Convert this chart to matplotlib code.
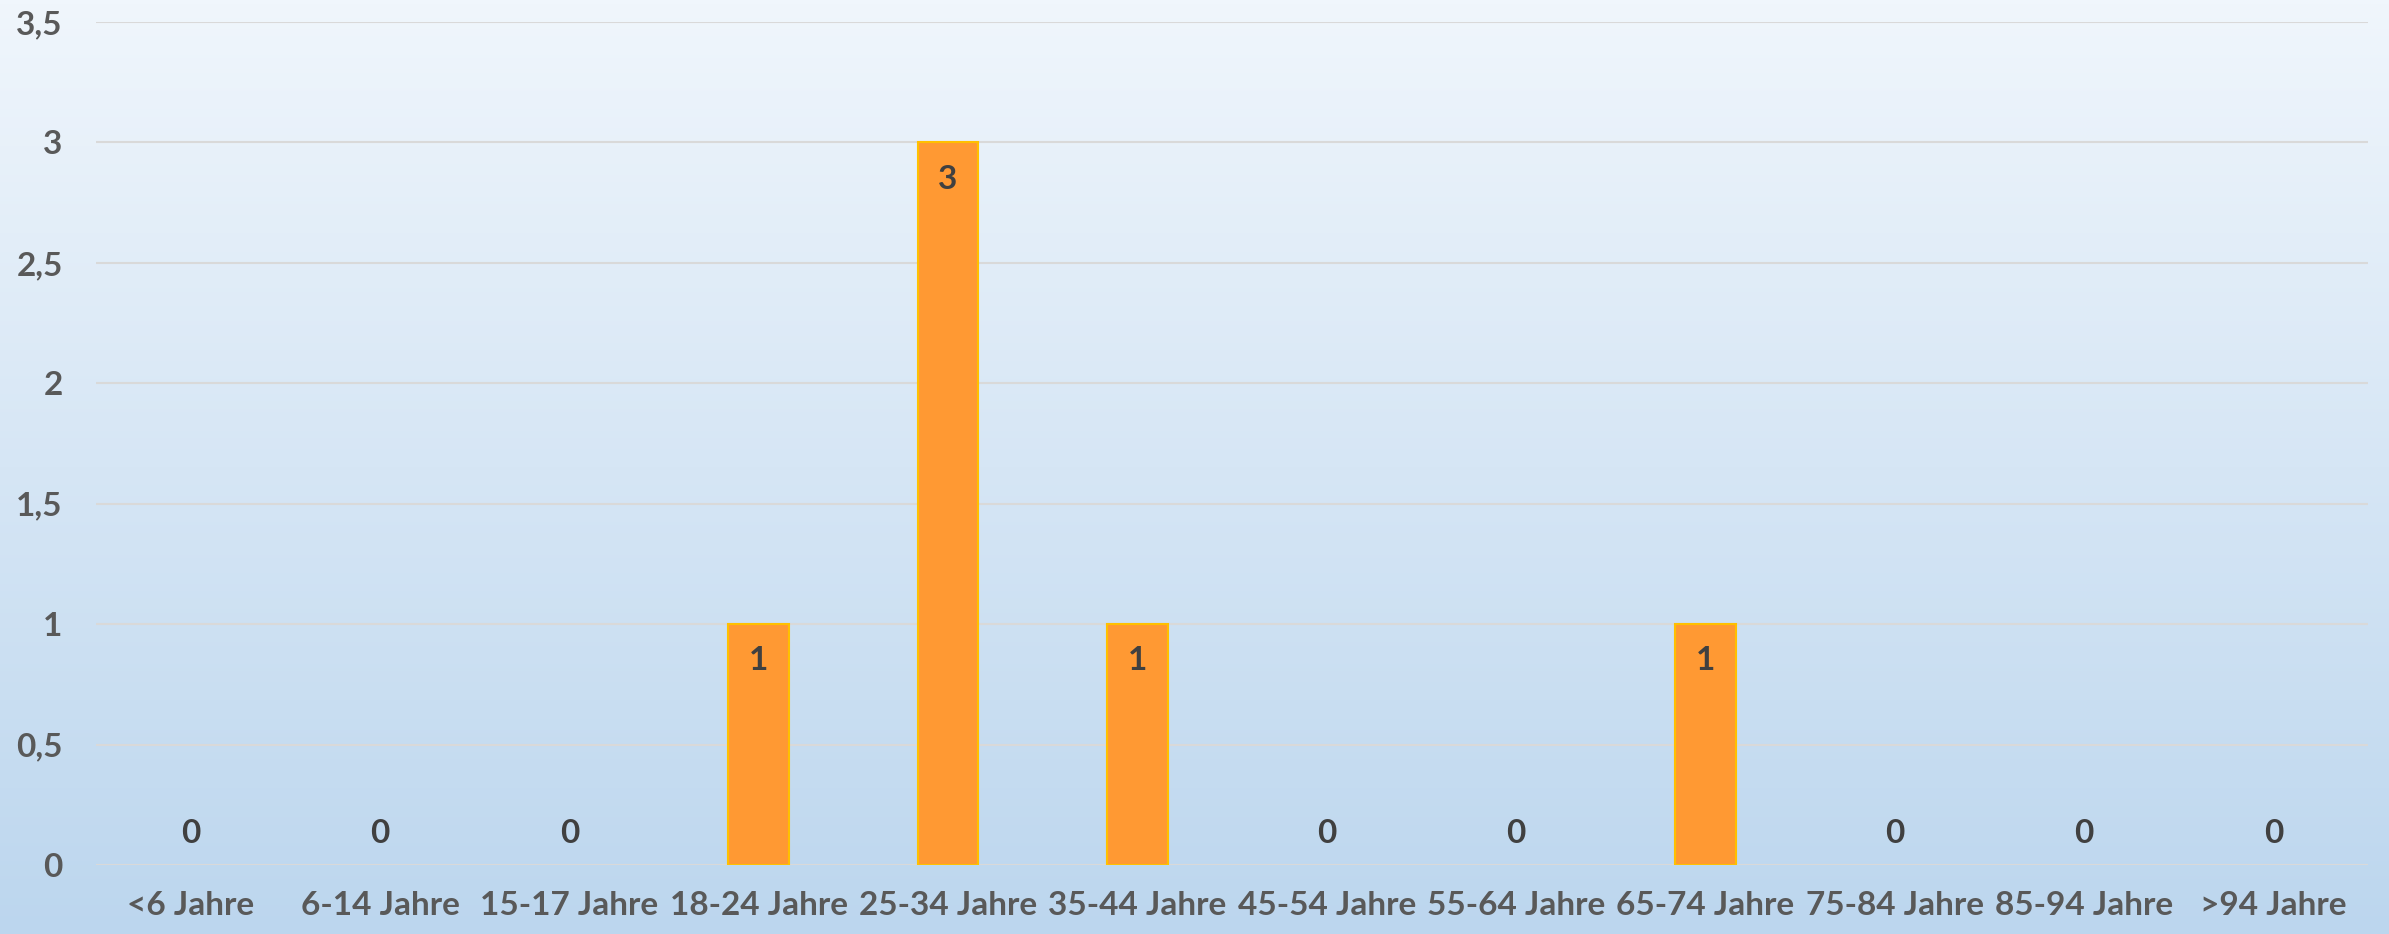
import numpy as np
import matplotlib
matplotlib.use("Agg")
import matplotlib.pyplot as plt
from matplotlib.colors import LinearSegmentedColormap

categories = ["<6 Jahre", "6-14 Jahre", "15-17 Jahre", "18-24 Jahre", "25-34 Jahre",
              "35-44 Jahre", "45-54 Jahre", "55-64 Jahre", "65-74 Jahre", "75-84 Jahre",
              "85-94 Jahre", ">94 Jahre"]
values = [0, 0, 0, 1, 3, 1, 0, 0, 1, 0, 0, 0]
y_ticks = [0, 0.5, 1, 1.5, 2, 2.5, 3, 3.5]
y_tick_labels = ["0", "0,5", "1", "1,5", "2", "2,5", "3", "3,5"]

plt.rcParams["font.family"] = ["Lato", "DejaVu Sans"]

fig = plt.figure(figsize=(23.89, 9.34), dpi=100)

# Hintergrund mit Farbverlauf
bg = fig.add_axes([0, 0, 1, 1], zorder=0)
grad = np.linspace(0, 1, 256).reshape(-1, 1)
cmap = LinearSegmentedColormap.from_list("bg", ["#F0F6FC", "#BCD6EE"])
bg.imshow(grad, aspect="auto", cmap=cmap, extent=[0, 1, 0, 1])
bg.axis("off")

ax = fig.add_axes([0.0402, 0.0739, 0.9510, 0.9025], zorder=1)
ax.patch.set_alpha(0)

x = np.arange(len(categories))
lw = [1.5 if v > 0 else 0 for v in values]
bars = ax.bar(x, values, width=0.32, color="#FF9933", edgecolor="#FFC000",
              linewidth=lw, zorder=3)

for xi, v in zip(x, values):
    if v == 0:
        ax.annotate(str(v), (xi, v), xytext=(0, 23), textcoords="offset points",
                    ha="center", va="center", fontsize=24, fontweight="bold",
                    color="#404040")
    else:
        ax.annotate(str(v), (xi, v), xytext=(0, -26.5), textcoords="offset points",
                    ha="center", va="center", fontsize=24, fontweight="bold",
                    color="#404040")

ax.set_xlim(-0.5, len(categories) - 0.5)
ax.set_ylim(0, 3.5)
ax.set_yticks(y_ticks)
ax.set_yticklabels(y_tick_labels)
ax.set_xticks(x)
ax.set_xticklabels(categories)
ax.tick_params(axis="both", length=0, labelsize=24, labelcolor="#595959")
ax.tick_params(axis="x", pad=19)
ax.tick_params(axis="y", pad=24)
for lab in ax.get_xticklabels() + ax.get_yticklabels():
    lab.set_fontweight("bold")

ax.yaxis.grid(True, color="#D9D9D9", linewidth=1.5, zorder=0)
for s in ax.spines.values():
    s.set_visible(False)

fig.savefig("out.png", dpi=100)
